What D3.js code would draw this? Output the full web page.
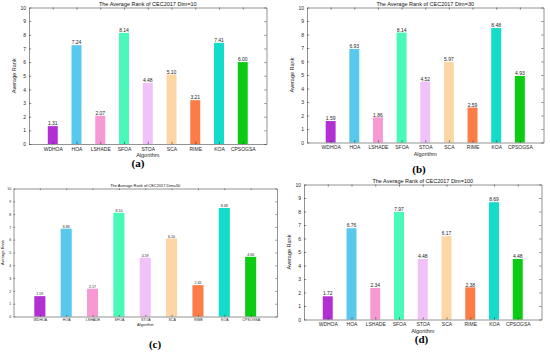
<!DOCTYPE html>
<html>
<head>
<meta charset="utf-8">
<script src="https://cdn.jsdelivr.net/npm/d3@7"></script>
<style>
  body { margin: 0; background: #fff; }
  svg { display: block; }
  .axis path, .axis line { stroke: #262626; stroke-width: 0.5; }
  .axis text { fill: #262626; font-family: "Liberation Sans", Arial, sans-serif; }
</style>
</head>
<body>
<svg class="svg"></svg>
<script>
// data
const algorithms = ["WDHOA", "HOA", "LSHADE", "SFOA", "STOA", "SCA", "RIME", "KOA", "CPSOGSA"];
const ranksDim10 = [1.31, 7.24, 2.07, 8.14, 4.48, 5.10, 3.21, 7.41, 6.00];
const ranksDim30 = [1.59, 6.93, 1.86, 8.14, 4.52, 5.97, 2.59, 8.48, 4.93];
const ranksDim50 = [1.59, 6.86, 2.17, 8.10, 4.59, 6.10, 2.45, 8.48, 4.66];
const ranksDim100 = [1.72, 6.76, 2.34, 7.97, 4.48, 6.17, 2.38, 8.69, 4.48];
const dims = ["10", "30", "50", "100"];
const yTicks = [0, 1, 2, 3, 4, 5, 6, 7, 8, 9, 10];
const colors = ["#b22fd3", "#58c8ec", "#f79ad3", "#48f9b8", "#f0c2f9", "#fcd6a4", "#fb7c46", "#13dcca", "#0ccb14"];

const svg = d3.select(".svg")
    .attr("width", 550)
    .attr("height", 354);

// one entry per panel: plot box and font size
const panels = [
    { values: ranksDim10, dim: dims[0], tag: "(a)", l: 29, r: 266.5, t: 7.5, b: 144, fs: 5, tagX: 138, tagY: 167 },
    { values: ranksDim30, dim: dims[1], tag: "(b)", l: 307, r: 543.5, t: 7.5, b: 142.5, fs: 5, tagX: 419, tagY: 173 },
    { values: ranksDim50, dim: dims[2], tag: "(c)", l: 13.5, r: 277, t: 188.5, b: 316.5, fs: 3.6, tagX: 155, tagY: 348 },
    { values: ranksDim100, dim: dims[3], tag: "(d)", l: 304, r: 541.5, t: 184.5, b: 319.5, fs: 5, tagX: 421.5, tagY: 343 }
];

panels.forEach(p => {
    const g = svg.append("g");

    const x = d3.scaleLinear().domain([0, 10]).range([p.l, p.r]);
    const y = d3.scaleLinear().domain([0, 10]).range([p.b, p.t]);
    const barW = (x(1) - x(0)) * 0.42;
    const tick = p.fs * 0.45;

    // bars
    g.selectAll("rect")
        .data(p.values)
        .enter()
        .append("rect")
        .attr("x", (d, i) => x(i + 1) - barW / 2)
        .attr("y", d => y(d))
        .attr("width", barW)
        .attr("height", d => y(0) - y(d))
        .attr("fill", (d, i) => colors[i]);

    // value labels on top of bars
    g.selectAll(".val")
        .data(p.values)
        .enter()
        .append("text")
        .attr("class", "val")
        .attr("x", (d, i) => x(i + 1))
        .attr("y", d => y(d) - 0.8)
        .attr("text-anchor", "middle")
        .attr("font-family", "Liberation Sans, Arial, sans-serif")
        .attr("font-size", p.fs)
        .attr("fill", "#262626")
        .text(d => d.toFixed(2));

    // axes, ticks inside like matlab with box on
    const xAxis = g.append("g").attr("class", "axis")
        .attr("transform", `translate(0,${p.b})`)
        .call(d3.axisBottom(x).tickValues(d3.range(1, 10))
            .tickFormat(d => algorithms[d - 1]).tickSizeInner(-tick).tickSizeOuter(0).tickPadding(p.fs * 0.6));
    xAxis.selectAll("text").attr("font-size", p.fs);

    g.append("g").attr("class", "axis")
        .attr("transform", `translate(0,${p.t})`)
        .call(d3.axisTop(x).tickValues(d3.range(1, 10)).tickFormat("").tickSizeInner(-tick).tickSizeOuter(0));

    const yAxis = g.append("g").attr("class", "axis")
        .attr("transform", `translate(${p.l},0)`)
        .call(d3.axisLeft(y).tickValues(yTicks).tickSizeInner(-tick).tickSizeOuter(0).tickPadding(p.fs * 0.6));
    yAxis.selectAll("text").attr("font-size", p.fs);

    g.append("g").attr("class", "axis")
        .attr("transform", `translate(${p.r},0)`)
        .call(d3.axisRight(y).tickValues(yTicks).tickFormat("").tickSizeInner(-tick).tickSizeOuter(0));

    // title
    g.append("text")
        .attr("x", (p.l + p.r) / 2)
        .attr("y", p.t - 1.5)
        .attr("text-anchor", "middle")
        .attr("font-family", "Liberation Sans, Arial, sans-serif")
        .attr("font-size", p.fs * 1.1)
        .attr("fill", "#111")
        .text("The Average Rank of CEC2017 Dim=" + p.dim);

    // axis labels
    g.append("text")
        .attr("x", (p.l + p.r) / 2)
        .attr("y", p.b + p.fs * 2.6)
        .attr("text-anchor", "middle")
        .attr("font-family", "Liberation Sans, Arial, sans-serif")
        .attr("font-size", p.fs * 1.1)
        .attr("fill", "#262626")
        .text("Algorithm");

    g.append("text")
        .attr("transform", `translate(${p.l - p.fs * 2.6},${(p.t + p.b) / 2}) rotate(-90)`)
        .attr("text-anchor", "middle")
        .attr("font-family", "Liberation Sans, Arial, sans-serif")
        .attr("font-size", p.fs * 1.1)
        .attr("fill", "#262626")
        .text("Average Rank");

    // panel tag
    svg.append("text")
        .attr("x", p.tagX)
        .attr("y", p.tagY)
        .attr("text-anchor", "middle")
        .attr("font-family", "Liberation Serif, Times New Roman, serif")
        .attr("font-weight", "bold")
        .attr("font-size", 11)
        .attr("fill", "#000")
        .text(p.tag);
});
</script>
</body>
</html>
